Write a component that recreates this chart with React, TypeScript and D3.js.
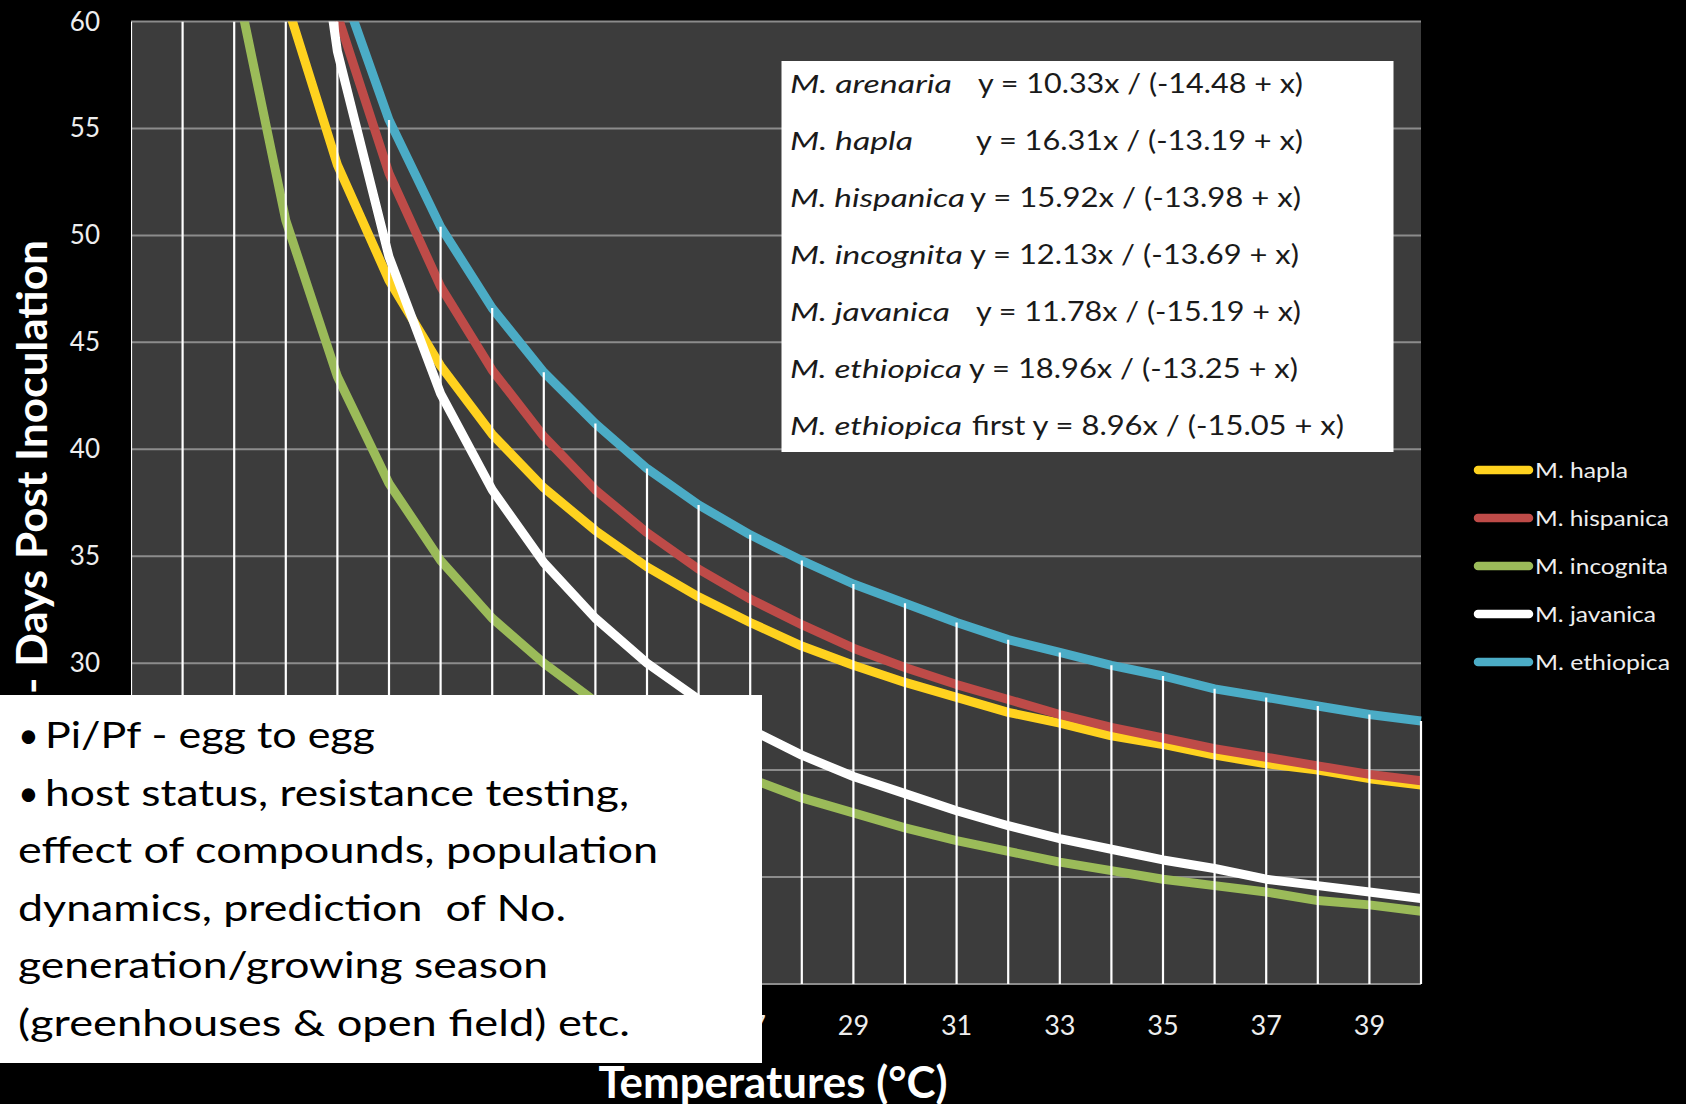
import React from "react";
import * as d3 from "d3";

// temperature (°C) on the x axis, one point per degree
const temps = [15, 16, 17, 18, 19, 20, 21, 22, 23, 24, 25, 26, 27, 28, 29, 30, 31, 32, 33, 34, 35, 36, 37, 38, 39, 40];

// days post inoculation (values above 60 are clipped)
const hapla = [135.2, 92.9, 72.8, 61.0, 53.3, 47.9, 43.9, 40.7, 38.2, 36.2, 34.5, 33.1, 31.9, 30.8, 29.9, 29.1, 28.4, 27.7, 27.2, 26.6, 26.2, 25.7, 25.3, 25.0, 24.6, 24.3];
const hispanica = [234, 126.1, 89.6, 71.3, 60.3, 52.9, 47.6, 43.7, 40.6, 38.1, 36.1, 34.4, 33.0, 31.8, 30.7, 29.8, 29.0, 28.3, 27.6, 27.0, 26.5, 26.0, 25.6, 25.2, 24.8, 24.5];
const incognita = [138.9, 84.0, 62.3, 50.7, 43.4, 38.4, 34.8, 32.1, 30.0, 28.2, 26.8, 25.6, 24.6, 23.7, 23.0, 22.3, 21.7, 21.2, 20.7, 20.3, 19.9, 19.6, 19.3, 18.9, 18.7, 18.4];
const javanica = [null, 232.7, 110.6, 75.5, 58.6, 49.0, 42.6, 38.1, 34.7, 32.1, 30.0, 28.3, 26.9, 25.7, 24.7, 23.9, 23.1, 22.4, 21.8, 21.3, 20.8, 20.4, 19.9, 19.6, 19.3, 19.0];
const ethiopica = [165, 112, 86, 72, 62.2, 55.4, 50.4, 46.6, 43.6, 41.2, 39.1, 37.4, 36.0, 34.8, 33.7, 32.8, 31.9, 31.1, 30.5, 29.9, 29.4, 28.8, 28.4, 28.0, 27.6, 27.3];

const seriesNames = ["M. hapla", "M. hispanica", "M. incognita", "M. javanica", "M. ethiopica"];
const seriesValues = [hapla, hispanica, incognita, javanica, ethiopica];
const seriesColors = ["#FFD21F", "#BE4B48", "#9BBB59", "#FFFFFF", "#4BACC6"];

const yGrid = [15, 20, 25, 30, 35, 40, 45, 50, 55, 60];
// the lower labels sit under the notes box on the slide
const yLabels = [30, 35, 40, 45, 50, 55, 60];
const xLabels = [27, 29, 31, 33, 35, 37, 39];

const eqSpecies = ["M. arenaria", "M. hapla", "M. hispanica", "M. incognita", "M. javanica", "M. ethiopica", "M. ethiopica"];
const eqFormulas = [
  "y = 10.33x / (-14.48 + x)",
  "y = 16.31x / (-13.19 + x)",
  "y = 15.92x / (-13.98 + x)",
  "y = 12.13x / (-13.69 + x)",
  "y = 11.78x / (-15.19 + x)",
  "y = 18.96x / (-13.25 + x)",
  "first y = 8.96x / (-15.05 + x)",
];

const noteLines = [
  "Pi/Pf - egg to egg",
  "host status, resistance testing,",
  "effect of compounds, population",
  "dynamics, prediction  of No.",
  "generation/growing season",
  "(greenhouses & open field) etc.",
];
const noteBullets = [true, true, false, false, false, false];

// layout, measured from the slide
const W = 1686;
const H = 1104;
const plot = { left: 131, right: 1421, top: 21.5, bottom: 984 };
const FONT = "Lato, 'Noto Sans', sans-serif";

// equation box text geometry
const eqSpeciesW = [162, 123, 175, 173, 160, 172, 172];
const eqFormulaX = [978, 976, 970, 970, 976, 969, 972];
const eqFormulaW = [325, 327, 331, 329, 325, 329, 372];
// note box text geometry
const noteX = [45, 45, 18, 18, 18, 18];
const noteW = [330, 584, 640, 548, 530, 612];
// legend label widths
const legendW = [93, 134, 133, 121, 135];

export default function App() {
  const x = d3.scaleLinear().domain([15, 40]).range([plot.left, plot.right]);
  const y = d3.scaleLinear().domain([15, 60]).range([plot.bottom, plot.top]);

  const line = d3
    .line<number | null>()
    .defined((d) => d != null)
    .x((_, i) => x(temps[i]))
    .y((d) => y(d as number));

  // drop lines run from the highest series down to the axis
  const tops = temps.map((_, i) => d3.max(seriesValues, (s) => s[i] ?? -Infinity) as number);

  return (
    <svg
      width={W}
      height={H}
      style={{ position: "absolute", left: 0, top: 0, background: "#000" }}
      fontFamily={FONT}
    >
      <defs>
        <clipPath id="plotClip">
          <rect x={plot.left} y={plot.top} width={plot.right - plot.left + 2} height={plot.bottom - plot.top} />
        </clipPath>
      </defs>
      <rect x={0} y={0} width={W} height={H} fill="#000" />
      <rect
        x={plot.left}
        y={plot.top}
        width={plot.right - plot.left}
        height={plot.bottom - plot.top}
        fill="#3C3C3C"
      />

      {/* horizontal gridlines */}
      {yGrid.map((t) => (
        <line key={t} x1={plot.left} x2={plot.right} y1={y(t)} y2={y(t)} stroke="#8C8C8C" strokeWidth={2} />
      ))}

      {/* y tick labels */}
      {yLabels.map((t) => (
        <text key={t} x={100} y={y(t) + 9} textAnchor="end" fontSize={26} fill="#EEEEEE">
          {t}
        </text>
      ))}

      {/* series, with drop lines drawn over them */}
      <g clipPath="url(#plotClip)">
        {seriesValues.map((s, i) => (
          <path
            key={seriesNames[i]}
            d={line(s) || ""}
            fill="none"
            stroke={seriesColors[i]}
            strokeWidth={9}
            strokeLinejoin="round"
          />
        ))}
        {tops.map((v, i) => (
          <line
            key={temps[i]}
            x1={x(temps[i])}
            x2={x(temps[i])}
            y1={y(Math.min(v, 60))}
            y2={plot.bottom}
            stroke="#FFFFFF"
            strokeWidth={2.2}
          />
        ))}
      </g>

      {/* x tick labels */}
      {xLabels.map((t) => (
        <text key={t} x={x(t)} y={1035} textAnchor="middle" fontSize={27} fill="#EEEEEE">
          {t}
        </text>
      ))}

      {/* axis titles */}
      <text
        x={773}
        y={1098}
        textAnchor="middle"
        fontSize={43}
        fontWeight="bold"
        fill="#FFFFFF"
        textLength={349}
        lengthAdjust="spacingAndGlyphs"
      >
        Temperatures (°C)
      </text>
      <text
        transform="translate(47,240) rotate(-90)"
        textAnchor="end"
        fontSize={42}
        fontWeight="bold"
        fill="#FFFFFF"
        textLength={454}
        lengthAdjust="spacingAndGlyphs"
      >
        - Days Post Inoculation
      </text>

      {/* equations box */}
      <rect x={781.5} y={61} width={612} height={391} fill="#FFFFFF" />
      {eqSpecies.map((sp, i) => (
        <g key={i} fill="#1A1A1A" fontSize={26}>
          <text
            x={790}
            y={93 + i * 57}
            fontStyle="italic"
            textLength={eqSpeciesW[i]}
            lengthAdjust="spacingAndGlyphs"
          >
            {sp}
          </text>
          <text x={eqFormulaX[i]} y={93 + i * 57} textLength={eqFormulaW[i]} lengthAdjust="spacingAndGlyphs">
            {eqFormulas[i]}
          </text>
        </g>
      ))}

      {/* legend */}
      {seriesNames.map((n, i) => (
        <g key={n}>
          <line
            x1={1478}
            x2={1529}
            y1={470 + i * 48}
            y2={470 + i * 48}
            stroke={seriesColors[i]}
            strokeWidth={8.5}
            strokeLinecap="round"
          />
          <text
            x={1535}
            y={470 + i * 48 + 7.5}
            fontSize={21}
            fill="#EEEEEE"
            textLength={legendW[i]}
            lengthAdjust="spacingAndGlyphs"
          >
            {n}
          </text>
        </g>
      ))}

      {/* notes box */}
      <rect x={0} y={695} width={762} height={368} fill="#FFFFFF" />
      {noteLines.map((l, i) => (
        <g key={i} fill="#000000" fontSize={36}>
          {noteBullets[i] && (
            <text x={18} y={748 + i * 57.5}>
              •
            </text>
          )}
          <text
            x={noteX[i]}
            y={748 + i * 57.5}
            style={{ whiteSpace: "pre" }}
            textLength={noteW[i]}
            lengthAdjust="spacingAndGlyphs"
          >
            {l}
          </text>
        </g>
      ))}
    </svg>
  );
}
